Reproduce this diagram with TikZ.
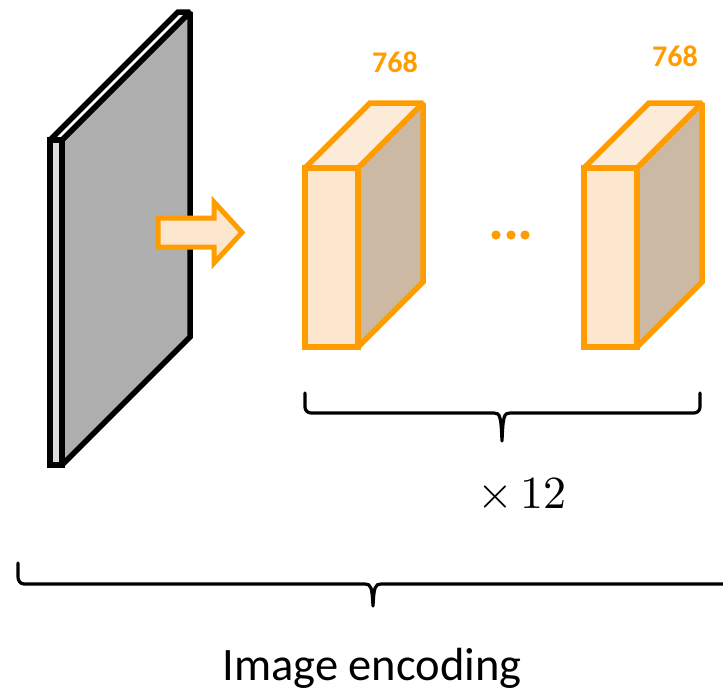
\documentclass[tikz,border=0pt]{standalone}
\usepackage{unicode-math}
\setmainfont{Carlito}
\setmathfont{Latin Modern Math}
\definecolor{accent}{HTML}{FF9C00}
\definecolor{peachfront}{HTML}{FDE6CE}
\definecolor{peachtop}{HTML}{FDEBD9}
\definecolor{tanside}{HTML}{CBB9A4}
\definecolor{plategray}{HTML}{AFAFAF}
\definecolor{plateedge}{HTML}{DCDCDC}
\tikzset{
  platestroke/.style={draw=black, line width=5.5pt, line join=miter, miter limit=1.5},
  cubestroke/.style={draw=accent, line width=5.5pt, line join=miter, miter limit=1.5},
  bracestroke/.style={draw=black, line width=3.2pt, line cap=round, line join=round},
  dimlabel/.style={text=accent, font=\fontsize{30}{34}\selectfont\bfseries},
}
% one 768-channel block: front face at (#1,#2) of size 53 x 179, depth 65
\newcommand{\featblock}[2]{%
  \path[cubestroke, fill=tanside]
    (#1+53,#2) -- ++(65,-65) -- ++(0,179) -- ++(-65,65) -- cycle;
  \path[cubestroke, fill=peachtop]
    (#1,#2) -- ++(65,-65) -- ++(53,0) -- ++(-65,65) -- cycle;
  \path[cubestroke, fill=peachfront]
    (#1,#2) rectangle ++(53,179);
}
\begin{document}
\begin{tikzpicture}[x=1pt, y=-1pt]
\useasboundingbox (0,0) rectangle (723,691);

% input image plane
\path[platestroke, fill=plategray]
  (62,140) -- (190,12) -- (190,337) -- (62,465) -- cycle;
\path[platestroke, fill=white]
  (50,140) -- (178,12) -- (190,12) -- (62,140) -- cycle;
\path[platestroke, fill=plateedge]
  (50,140) rectangle (62,465);

% arrow into the encoder
\path[draw=accent, fill=peachfront, line width=5pt, line join=miter]
  (158,218) -- (214,218) -- (214,202) -- (242,232.5)
  -- (214,263) -- (214,247) -- (158,247) -- cycle;

% encoder blocks
\featblock{305}{168}
\featblock{584}{168}
\node[dimlabel] (dimA) at (395,62) {768};
\node[dimlabel] (dimB) at (675,56) {768};

% ellipsis between the blocks
\foreach \cx [count=\i] in {496,511,525}
  \fill[accent] (\cx,235) circle (4.6) coordinate (dot\i);

% brace under the blocks
\coordinate (bAl) at (305,393);
\coordinate (bAr) at (700,393);
\coordinate (bAt) at (502,441);
\draw[bracestroke]
  (bAl) -- (305,407) to[out=-90,in=180] (311,413) -- (494,413)
  .. controls (500,413) and (501,416) .. (bAt)
  .. controls (503,416) and (504,413) .. (510,413)
  -- (694,413) to[out=0,in=-90] (700,407) -- (bAr);
\node[font=\fontsize{46}{50}\selectfont, anchor=base] (times) at (522,508) {$\times\,12$};

% brace under the whole encoder
\coordinate (bBl) at (18,563);
\coordinate (bBt) at (373,606);
\draw[bracestroke]
  (bBl) -- (18,577) to[out=-90,in=180] (24,584) -- (365,584)
  .. controls (371,584) and (372,587) .. (bBt)
  .. controls (374,587) and (375,584) .. (381,584)
  -- (730,584);
\node[font=\fontsize{46.5}{50}\selectfont, anchor=base] (caption) at (372,680) {Image encoding};
\end{tikzpicture}
\end{document}
